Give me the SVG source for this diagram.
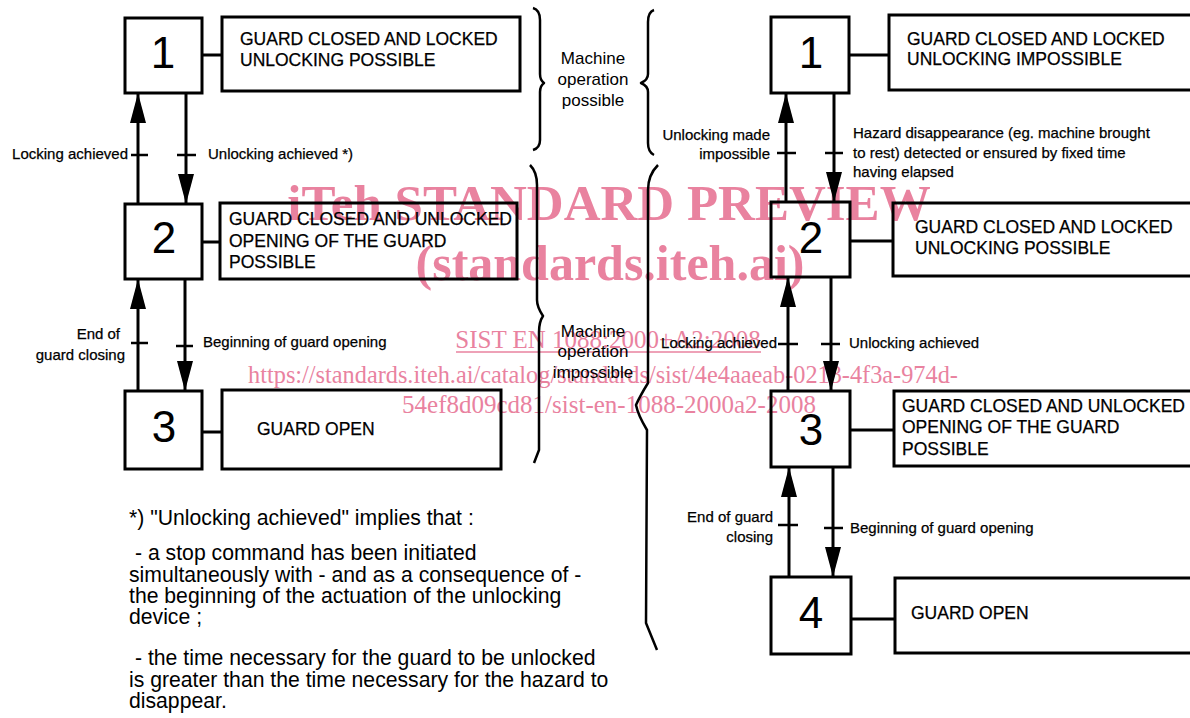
<svg xmlns="http://www.w3.org/2000/svg" width="1190" height="718" viewBox="0 0 1190 718">
<style>
.bg{fill:#ffffff}
.box{fill:none;stroke:#000;stroke-width:3}
.ln{fill:none;stroke:#000;stroke-width:3}
.tk{stroke:#000;stroke-width:2.5}
.brace{fill:none;stroke:#000;stroke-width:2.5;stroke-linejoin:round}
.num{font-family:"Liberation Sans",Arial,sans-serif;font-size:44px;fill:#000;text-anchor:middle}
.desc{font-family:"Liberation Sans",Arial,sans-serif;font-size:17.5px;fill:#000;stroke:#000;stroke-width:0.25}
.lbl{font-family:"Liberation Sans",Arial,sans-serif;font-size:15px;fill:#000;stroke:#000;stroke-width:0.25}
.end{text-anchor:end}
.mach{font-family:"Liberation Sans",Arial,sans-serif;font-size:17px;fill:#000;text-anchor:middle}
.note{font-family:"Liberation Sans",Arial,sans-serif;font-size:21.2px;fill:#000}
.wm{font-family:"Liberation Serif","Times New Roman",serif;fill:#e9829f;text-anchor:middle}
</style>
<defs>
<marker id="ah" viewBox="0 0 30 16" refX="30" refY="8" markerWidth="30" markerHeight="16" markerUnits="userSpaceOnUse" orient="auto">
<path d="M0,0 L30,8 L0,16 z" fill="#000"/>
</marker>
</defs>
<rect class="bg" x="0" y="0" width="1190" height="718"/>

<g id="watermark">
<text class="wm" x="609" y="220" font-size="51" font-weight="bold">iTeh STANDARD PREVIEW</text>
<text class="wm" x="610" y="280" font-size="50" font-weight="bold">(standards.iteh.ai)</text>
<text class="wm" x="608" y="348" font-size="25">SIST EN 1088:2000+A2:2008</text>
<line x1="456" y1="352" x2="761" y2="352" stroke="#e9829f" stroke-width="1.5"/>
<text class="wm" x="603" y="383" font-size="24.3">https://standards.iteh.ai/catalog/standards/sist/4e4aaeab-0213-4f3a-974d-</text>
<text class="wm" x="609" y="413" font-size="25">54ef8d09cd81/sist-en-1088-2000a2-2008</text>
</g>

<g id="connectors">
<line class="ln" x1="202" y1="55" x2="222" y2="55"/>
<line class="ln" x1="202" y1="242" x2="220" y2="242"/>
<line class="ln" x1="202" y1="432" x2="222" y2="432"/>
<line class="ln" x1="138" y1="204" x2="138" y2="93" marker-end="url(#ah)"/>
<line class="ln" x1="186" y1="93" x2="186" y2="204" marker-end="url(#ah)"/>
<line class="tk" x1="131" y1="155" x2="148" y2="155"/>
<line class="tk" x1="177" y1="155" x2="196" y2="155"/>
<line class="ln" x1="138" y1="391" x2="138" y2="279" marker-end="url(#ah)"/>
<line class="ln" x1="185" y1="279" x2="185" y2="391" marker-end="url(#ah)"/>
<line class="tk" x1="131" y1="343" x2="148" y2="343"/>
<line class="tk" x1="176" y1="346" x2="193" y2="346"/>
<line class="ln" x1="849" y1="55" x2="889" y2="55"/>
<line class="ln" x1="850" y1="241" x2="893" y2="241"/>
<line class="ln" x1="850" y1="430" x2="894" y2="430"/>
<line class="ln" x1="851" y1="619" x2="895" y2="619"/>
<line class="ln" x1="786" y1="202" x2="786" y2="93" marker-end="url(#ah)"/>
<line class="ln" x1="834" y1="93" x2="834" y2="202" marker-end="url(#ah)"/>
<line class="tk" x1="777" y1="153" x2="796" y2="153"/>
<line class="tk" x1="825" y1="153" x2="843" y2="153"/>
<line class="ln" x1="788" y1="391" x2="788" y2="277" marker-end="url(#ah)"/>
<line class="ln" x1="831" y1="277" x2="831" y2="391" marker-end="url(#ah)"/>
<line class="tk" x1="778" y1="344" x2="798" y2="344"/>
<line class="tk" x1="821" y1="344" x2="840" y2="344"/>
<line class="ln" x1="789" y1="577" x2="789" y2="467" marker-end="url(#ah)"/>
<line class="ln" x1="833" y1="467" x2="833" y2="577" marker-end="url(#ah)"/>
<line class="tk" x1="778" y1="525" x2="798" y2="525"/>
<line class="tk" x1="824" y1="528" x2="843" y2="528"/>
</g>

<g id="transition-labels">
<text class="lbl end" x="128" y="159">Locking achieved</text>
<text class="lbl" x="208" y="159">Unlocking achieved *)</text>
<text class="lbl end" x="120" y="339">End of</text>
<text class="lbl end" x="125" y="360">guard closing</text>
<text class="lbl" x="203" y="347">Beginning of guard opening</text>
<text class="lbl end" x="770" y="140">Unlocking made</text>
<text class="lbl end" x="770" y="159">impossible</text>
<text class="lbl" x="853" y="138">Hazard disappearance (eg. machine brought</text>
<text class="lbl" x="853" y="158">to rest) detected or ensured by fixed time</text>
<text class="lbl" x="853" y="177">having elapsed</text>
<text class="lbl end" x="777" y="348">Locking achieved</text>
<text class="lbl" x="849" y="348">Unlocking achieved</text>
<text class="lbl end" x="773" y="522">End of guard</text>
<text class="lbl end" x="773" y="542">closing</text>
<text class="lbl" x="850" y="533">Beginning of guard opening</text>
</g>

<g id="left-state-1">
<rect class="box" x="125" y="18" width="77" height="75"/>
<text class="num" x="163" y="68">1</text>
</g>
<g id="left-desc-1">
<rect class="box" x="222" y="17" width="298" height="74"/>
<text class="desc" x="240" y="45">GUARD CLOSED AND LOCKED</text>
<text class="desc" x="240" y="66">UNLOCKING POSSIBLE</text>
</g>
<g id="left-state-2">
<rect class="box" x="125" y="204" width="77" height="75"/>
<text class="num" x="164" y="253">2</text>
</g>
<g id="left-desc-2">
<rect class="box" x="220" y="203" width="297" height="76"/>
<text class="desc" x="229" y="225">GUARD CLOSED AND UNLOCKED</text>
<text class="desc" x="229" y="247">OPENING OF THE GUARD</text>
<text class="desc" x="229" y="268">POSSIBLE</text>
</g>
<g id="left-state-3">
<rect class="box" x="125" y="391" width="77" height="78"/>
<text class="num" x="164" y="442">3</text>
</g>
<g id="left-desc-3">
<rect class="box" x="222" y="390" width="279" height="79"/>
<text class="desc" x="257" y="435">GUARD OPEN</text>
</g>

<g id="right-state-1">
<rect class="box" x="771" y="17" width="78" height="76"/>
<text class="num" x="811" y="68">1</text>
</g>
<g id="right-desc-1">
<rect class="box" x="889" y="15" width="320" height="75"/>
<text class="desc" x="907" y="45">GUARD CLOSED AND LOCKED</text>
<text class="desc" x="907" y="65">UNLOCKING IMPOSSIBLE</text>
</g>
<g id="right-state-2">
<rect class="box" x="771" y="202" width="79" height="75"/>
<text class="num" x="811" y="253">2</text>
</g>
<g id="right-desc-2">
<rect class="box" x="893" y="203" width="320" height="73"/>
<text class="desc" x="915" y="233">GUARD CLOSED AND LOCKED</text>
<text class="desc" x="915" y="254">UNLOCKING POSSIBLE</text>
</g>
<g id="right-state-3">
<rect class="box" x="771" y="391" width="79" height="76"/>
<text class="num" x="811" y="445">3</text>
</g>
<g id="right-desc-3">
<rect class="box" x="894" y="391" width="320" height="75"/>
<text class="desc" x="902" y="412">GUARD CLOSED AND UNLOCKED</text>
<text class="desc" x="902" y="433">OPENING OF THE GUARD</text>
<text class="desc" x="902" y="455">POSSIBLE</text>
</g>
<g id="right-state-4">
<rect class="box" x="771" y="577" width="80" height="77"/>
<text class="num" x="811" y="628">4</text>
</g>
<g id="right-desc-4">
<rect class="box" x="895" y="578" width="320" height="75"/>
<text class="desc" x="911" y="619">GUARD OPEN</text>
</g>

<g id="braces">
<path class="brace" d="M533,8 Q540,10 540,20 L540,74 Q540,80 544,83 Q540,86 540,92 L540,140 Q540,148 533,150"/>
<path class="brace" d="M654,10 Q648,12 648,22 L648,74 Q648,80 641,83 Q648,86 648,92 L648,143 Q648,152 654,155"/>
<path class="brace" d="M530,165 Q537,172 537,185 L537,300 Q537,307 543,316 Q539,322 539,332 L539,450 L534,463"/>
<path class="brace" d="M658,165 Q648,175 648,190 L648,383 Q640,396 636,405 Q638,415 647,430 L646,623 L657,650"/>
<text class="mach" x="593" y="64">Machine</text>
<text class="mach" x="593" y="85">operation</text>
<text class="mach" x="593" y="106">possible</text>
<text class="mach" x="593" y="337">Machine</text>
<text class="mach" x="593" y="357">operation</text>
<text class="mach" x="593" y="378">impossible</text>
</g>

<g id="footnote">
<text class="note" x="129" y="525">*) "Unlocking achieved" implies that :</text>
<text class="note" x="135" y="560">- a stop command has been initiated</text>
<text class="note" x="129" y="582">simultaneously with - and as a consequence of -</text>
<text class="note" x="129" y="603">the beginning of the actuation of the unlocking</text>
<text class="note" x="129" y="624">device ;</text>
<text class="note" x="135" y="665">- the time necessary for the guard to be unlocked</text>
<text class="note" x="129" y="687">is greater than the time necessary for the hazard to</text>
<text class="note" x="129" y="708">disappear.</text>
</g>
</svg>
